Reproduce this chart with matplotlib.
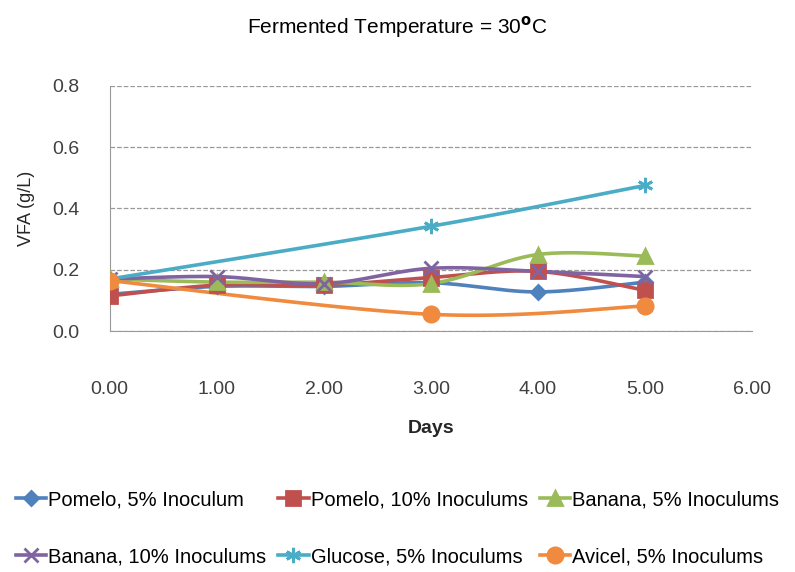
import numpy as np
import matplotlib.pyplot as plt

plt.rcParams['font.family'] = ['Liberation Sans', 'DejaVu Sans']

# data
days = [0, 1, 2, 3, 4, 5]
pomelo_5 = [0.12, 0.146, 0.146, 0.158, 0.128, 0.16]
pomelo_10 = [0.115, 0.15, 0.15, 0.175, 0.195, 0.133]
banana_5 = [0.17, 0.16, 0.16, 0.155, 0.25, 0.245]
banana_10 = [0.17, 0.178, 0.155, 0.205, 0.195, 0.178]
glucose_days = [0, 3, 5]
glucose_5 = [0.17, 0.342, 0.475]
avicel_days = [0, 3, 5]
avicel_5 = [0.165, 0.055, 0.082]

labels = ['Pomelo, 5% Inoculum', 'Pomelo, 10% Inoculums', 'Banana, 5% Inoculums',
          'Banana, 10% Inoculums', 'Glucose, 5% Inoculums', 'Avicel, 5% Inoculums']
colors = ['#4F81BD', '#C0504D', '#9BBB59', '#8064A2', '#4BACC6', '#F08A3E']
markers = ['D', 's', '^', 'x', (6, 2, 0), 'o']
msizes = [7, 10, 10, 10, 11, 11]


def smooth(x, y, n=30):
    # Catmull-Rom curve through the points, like Excel's smoothed line
    x = np.asarray(x, float)
    y = np.asarray(y, float)
    px = np.concatenate([[x[0]], x, [x[-1]]])
    py = np.concatenate([[y[0]], y, [y[-1]]])
    xs, ys = [], []
    t = np.linspace(0, 1, n)
    for i in range(1, len(px) - 2):
        for p, out in ((px, xs), (py, ys)):
            p0, p1, p2, p3 = p[i - 1], p[i], p[i + 1], p[i + 2]
            out.extend(0.5 * ((2 * p1) + (-p0 + p2) * t
                              + (2 * p0 - 5 * p1 + 4 * p2 - p3) * t ** 2
                              + (-p0 + 3 * p1 - 3 * p2 + p3) * t ** 3))
    return xs, ys


fig = plt.figure(figsize=(7.95, 5.72), dpi=100)
ax = fig.add_axes([0.138, 0.421, 0.808, 0.429])

series = [(days, pomelo_5), (days, pomelo_10), (days, banana_5),
          (days, banana_10), (glucose_days, glucose_5), (avicel_days, avicel_5)]
handles = []
for (xv, yv), lab, c, m, ms in zip(series, labels, colors, markers, msizes):
    sx, sy = smooth(xv, yv)
    ax.plot(sx, sy, color=c, lw=2.6, zorder=2)
    ax.plot(xv, yv, ls='none', marker=m, ms=ms, color=c, mec=c, mew=2, zorder=3)
    h, = ax.plot([], [], color=c, lw=2.6, marker=m, ms=ms, mec=c, mew=2)
    handles.append(h)

ax.set_xlim(0, 6)
ax.set_ylim(0, 0.8)
ax.set_xticks(np.arange(0, 7, 1))
ax.set_xticklabels(['%.2f' % v for v in range(7)])
ax.set_yticks(np.arange(0, 0.81, 0.2))
ax.set_yticklabels(['%.1f' % v for v in np.arange(0, 0.81, 0.2)])
ax.yaxis.grid(True, ls='--', color='#999999', lw=0.9)
ax.set_axisbelow(True)
for s in ['top', 'right']:
    ax.spines[s].set_visible(False)
for s in ['left', 'bottom']:
    ax.spines[s].set_color('#999999')
ax.tick_params(axis='both', length=0, labelsize=14, colors='#404040')
ax.tick_params(axis='x', pad=36)
ax.tick_params(axis='y', pad=22)
ax.set_xlabel('Days', fontsize=14, fontweight='bold', color='#262626', labelpad=16)
ax.set_ylabel('VFA (g/L)', fontsize=13, color='#262626', labelpad=12)

fig.text(0.5, 0.952, r'Fermented Temperature = 30$^{\mathbf{o}}$C', ha='center',
         va='center', fontsize=15)

# legend is filled row by row in the reference
order = [0, 3, 1, 4, 2, 5]
fig.legend([handles[i] for i in order], [labels[i] for i in order],
           loc='lower center', bbox_to_anchor=(0.5, -0.015), ncol=3,
           frameon=False, fontsize=14.5, handlelength=1.5, handletextpad=0.1,
           columnspacing=0.6, labelspacing=1.9, borderaxespad=0.3)

fig.savefig('out.png', dpi=100)
